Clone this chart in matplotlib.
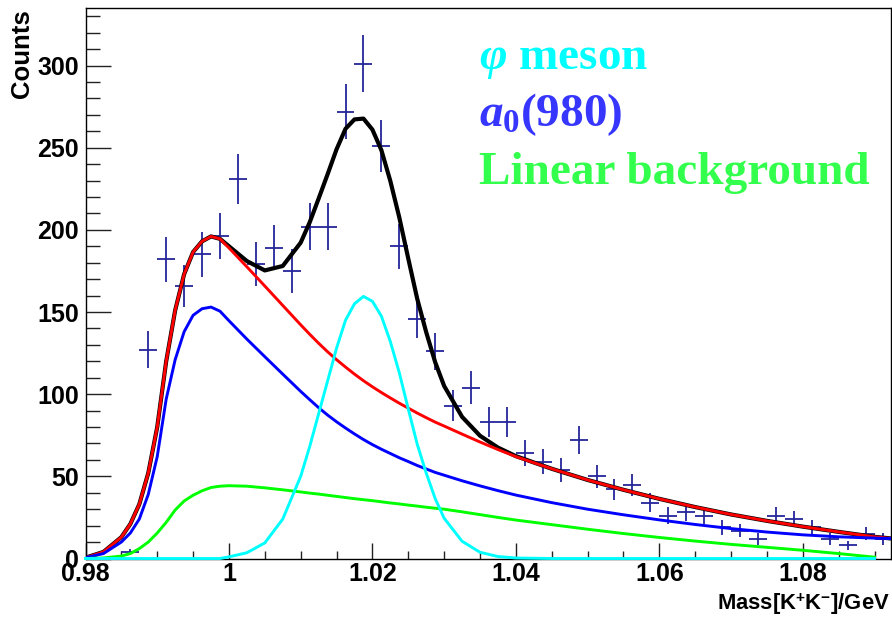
import numpy as np
import matplotlib
matplotlib.use("Agg")
import matplotlib.pyplot as plt
from matplotlib.ticker import MultipleLocator, FuncFormatter

plt.rcParams['font.family'] = ['Liberation Sans', 'DejaVu Sans']
plt.rcParams['font.weight'] = 'bold'
plt.rcParams['mathtext.fontset'] = 'custom'
plt.rcParams['mathtext.rm'] = 'Liberation Sans:bold'
plt.rcParams['mathtext.it'] = 'Liberation Serif:italic:bold'
plt.rcParams['mathtext.bf'] = 'Liberation Serif:bold'

# K+K- invariant mass histogram, 2.5 MeV bins starting at 0.98 GeV
mass_lo = 0.98
bin_width = 0.0025
counts = [0, 0, 4, 127, 182, 166, 185, 196, 231, 179, 189, 175, 202, 202, 272,
          301, 251, 190, 146, 126, 93, 104, 83, 83, 64, 59, 54, 72, 50, 42,
          45, 34, 26, 28, 26, 19, 17, 12, 26, 24, 19, 12, 8, 15, 12]
count_err = [0, 0, 2.0, 11.3, 13.5, 12.9, 13.6, 14.0, 15.2, 13.4, 13.7, 13.2, 14.2, 14.2, 16.5,
             17.3, 15.8, 13.8, 12.1, 11.2, 9.6, 10.2, 9.1, 9.1, 8.0, 7.7, 7.3, 8.5, 7.1, 6.5,
             6.7, 5.8, 5.1, 5.3, 5.1, 4.4, 4.1, 3.5, 5.1, 4.9, 4.4, 3.5, 2.8, 3.9, 3.5]

# fit components sampled along the mass axis
mass_fit = [0.980, 0.9825, 0.985, 0.98625, 0.9875, 0.98875, 0.990, 0.99125, 0.9925, 0.99375,
            0.995, 0.99625, 0.9975, 0.99875, 1.000, 1.0025, 1.005, 1.0075, 1.010, 1.01125,
            1.0125, 1.01375, 1.015, 1.01625, 1.0175, 1.01875, 1.020, 1.02125, 1.0225, 1.02375,
            1.025, 1.02625, 1.0275, 1.02875, 1.030, 1.0325, 1.035, 1.0375, 1.040, 1.045,
            1.050, 1.055, 1.060, 1.065, 1.070, 1.075, 1.080, 1.085, 1.090, 1.0925]

total_fit = [0.5, 4, 13, 21, 33, 52, 80, 120, 151, 173,
             186.5, 193, 196, 194.5, 190, 181, 175.3, 178, 192.2, 204.5,
             219, 233.8, 249, 261.5, 267.2, 267.7, 261, 248.5, 229.7, 207.5,
             182.5, 158, 137.7, 119.5, 105, 86.2, 74.7, 67.5, 62.3, 54.6,
             47.8, 41.8, 36.3, 31.3, 26.8, 22.9, 19.4, 16.2, 13.2, 12.1]

a0_bkg_fit = [0.5, 4, 13, 21, 33, 52, 80, 120, 151, 173,
              186.5, 193, 196, 194.5, 189, 177.5, 165.8, 154, 142.2, 136.5,
              131, 125.8, 121, 116.5, 112.2, 108.2, 104.5, 101, 97.7, 94.5,
              91.5, 88.5, 85.7, 83, 80.6, 75.7, 70.9, 66.3, 62, 54.6,
              47.8, 41.8, 36.3, 31.3, 26.8, 22.9, 19.4, 16.2, 13.2, 12.1]

a0_fit = [0.5, 3, 10, 15.5, 24, 39, 62, 97, 121, 138,
          148, 152, 153, 150.5, 144.7, 133.5, 122.8, 112.2, 101.7, 96.7,
          91.8, 87.3, 83.2, 79.4, 75.8, 72.4, 69.3, 66.5, 63.9, 61.3,
          59, 56.6, 54.5, 52.4, 50.7, 47.3, 44.2, 41.3, 38.6, 34,
          30, 26.6, 23.5, 20.7, 18.2, 16.1, 14.4, 13.2, 12.4, 12.1]

bkg_fit = [0, 0.3, 1.5, 3, 6, 10, 15.5, 22, 29.5, 35,
           38.5, 41.2, 43.2, 44, 44.3, 44, 43, 41.8, 40.5, 39.8,
           39.2, 38.5, 37.8, 37.1, 36.4, 35.8, 35.2, 34.5, 33.8, 33.2,
           32.5, 31.9, 31.2, 30.6, 30, 28.4, 26.7, 25, 23.4, 20.6,
           17.8, 15.2, 12.8, 10.6, 8.6, 6.8, 5, 3, 0.8, np.nan]

phi_fit = [0, 0, 0, 0, 0, 0, 0, 0, 0, 0,
           0, 0, 0, 0, 1, 3.5, 9.5, 24, 50, 68,
           88, 108, 128, 145, 155, 159.5, 156.5, 147.5, 132, 113,
           91, 69.5, 52, 36.5, 24.5, 10.5, 3.8, 1.2, 0.3, 0,
           0, 0, 0, 0, 0, 0, 0, 0, 0, np.nan]

labels = [r'$\varphi$ meson', r'$a_\mathbf{0}$(980)', 'Linear background']
label_colors = ['#00ffff', '#3636ff', '#33ff4d']

counts = np.array(counts, dtype=float)
count_err = np.array(count_err)
centers = mass_lo + bin_width * (np.arange(len(counts)) + 0.5)
filled = counts > 0

fig = plt.figure(figsize=(8.92, 6.17), dpi=100)
ax = fig.add_axes([85.5 / 892, 1 - 558.5 / 617, (891 - 85.5) / 892, (558.5 - 8) / 617])

ax.errorbar(centers[filled], counts[filled], xerr=bin_width / 2, yerr=count_err[filled],
            fmt='none', ecolor='#25259c', elinewidth=1.3, capsize=0, zorder=2)

ax.plot(mass_fit, total_fit, color='black', lw=3.0, zorder=3)
ax.plot(mass_fit, a0_bkg_fit, color='red', lw=2.1, zorder=4)
ax.plot(mass_fit, a0_fit, color='blue', lw=2.1, zorder=5)
ax.plot(mass_fit, bkg_fit, color='#00ff00', lw=2.1, zorder=6, clip_on=False)
ax.plot(mass_fit, phi_fit, color='#00ffff', lw=2.1, zorder=7, clip_on=False)

ax.set_xlim(0.98, 1.0923)
ax.set_ylim(0, 335)

ax.xaxis.set_major_locator(MultipleLocator(0.02))
ax.xaxis.set_minor_locator(MultipleLocator(0.005))
ax.yaxis.set_major_locator(MultipleLocator(50))
ax.yaxis.set_minor_locator(MultipleLocator(10))
ax.xaxis.set_major_formatter(FuncFormatter(lambda v, p: f"{v:g}"))

ax.tick_params(axis='both', which='both', direction='in', top=False, right=False,
               labelsize=18, width=1.0, color='#222222')
ax.tick_params(axis='x', which='major', length=11.5, pad=2.5)
ax.tick_params(axis='x', which='minor', length=5.8)
ax.tick_params(axis='y', which='major', length=18, pad=4.5)
ax.tick_params(axis='y', which='minor', length=10)
for sp in ax.spines.values():
    sp.set_linewidth(1.0)

fig.text(22 / 892, 1 - 9 / 617, 'Counts', rotation=90, ha='center', va='top',
         fontsize=18.5, fontweight='bold')
fig.text(890 / 892, 1 - 610 / 617, r'Mass[K$^{+}$K$^{-}$]/GeV', ha='right', va='baseline',
         fontsize=15.8, fontweight='bold')

for i, (txt, col) in enumerate(zip(labels, label_colors)):
    fig.text(479 / 892, 1 - (69 + 57.5 * i) / 617, txt, color=col, fontsize=34,
             fontweight='bold', family='Liberation Serif', ha='left', va='baseline')

fig.savefig('out.png', dpi=100)
